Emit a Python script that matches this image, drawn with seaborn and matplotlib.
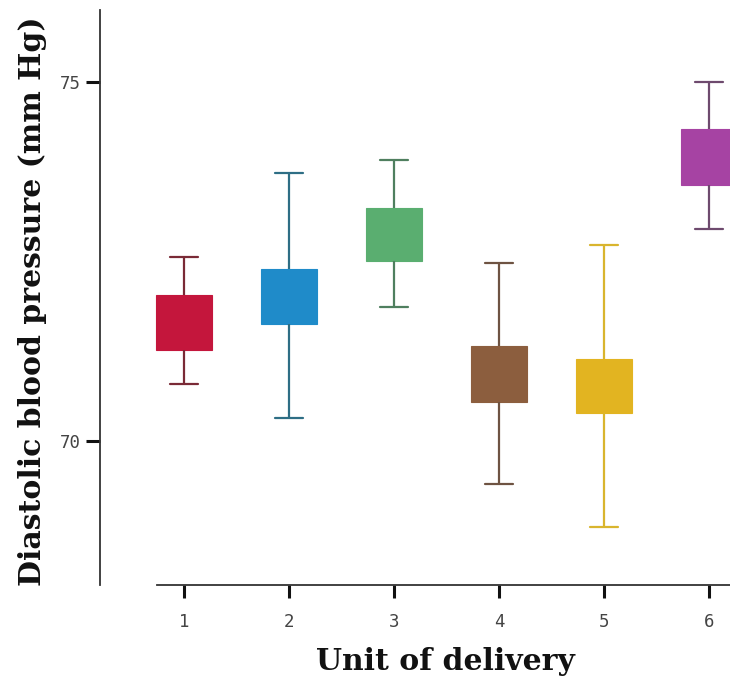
import numpy as np
import pandas as pd
import matplotlib
matplotlib.use("Agg")
import matplotlib.pyplot as plt
import seaborn as sns

units = ["1", "2", "3", "4", "5", "6"]
whisker_low = [70.79, 70.32, 71.87, 69.40, 68.81, 72.95]
box_low = [71.27, 71.63, 72.51, 70.55, 70.39, 73.57]
box_high = [72.04, 72.40, 73.25, 71.32, 71.15, 74.34]
whisker_high = [72.56, 73.73, 73.92, 72.48, 72.73, 75.00]
box_colors = ["#C4163C", "#1F8BC9", "#5AAE70", "#8C5E3E", "#E2B421", "#A643A3"]
line_colors = ["#7A2A36", "#2E6E85", "#4F7F5F", "#6E5342", "#D9B52E", "#6E4A6E"]
yticks = [70, 75]

rows = []
for u, a, b, d, e in zip(units, whisker_low, box_low, box_high, whisker_high):
    for v in (a, b, b, d, e):
        rows.append({"unit": u, "dbp": v})
df = pd.DataFrame(rows)

sns.set_theme(style="white")
plt.rcParams["font.family"] = ["DejaVu Sans"]

fig = plt.figure(figsize=(7.30, 6.83), dpi=100)
ax = fig.add_axes([100 / 730, (683 - 585) / 683, 630 / 730, 575 / 683])

sns.boxplot(data=df, x="unit", y="dbp", hue="unit", order=units, hue_order=units,
            palette=box_colors, saturation=1, width=0.53, whis=(0, 100),
            dodge=False, legend=False, showfliers=False, linewidth=1.6,
            medianprops={"linewidth": 0, "alpha": 0}, ax=ax)

conts = [c for c in ax.containers if hasattr(c, "boxes")]
for c, fc, lc in zip(conts, box_colors, line_colors):
    for b in c.boxes:
        b.set_edgecolor(fc)
        b.set_facecolor(fc)
        b.set_linewidth(0.8)
    for w in list(c.whiskers) + list(c.caps):
        w.set_color(lc)
        w.set_linewidth(1.6)
    for m in c.medians:
        m.set_visible(False)

ax.set_xlim(-0.8, 5.2)
ax.set_ylim(68, 76)
ax.set_yticks(yticks)
ax.set_yticklabels([str(t) for t in yticks])

for s in ["top", "right"]:
    ax.spines[s].set_visible(False)
ax.spines["left"].set_color("#333333")
ax.spines["bottom"].set_color("#333333")
ax.spines["left"].set_linewidth(1.3)
ax.spines["bottom"].set_linewidth(1.3)
ax.spines["bottom"].set_bounds(-0.26, 5.2)

ax.tick_params(axis="y", direction="out", length=10, width=2.2, color="#111111",
               labelsize=12.5, labelcolor="#444444", pad=4, left=True)
ax.tick_params(axis="x", direction="out", length=9, width=2.2, color="#111111",
               labelsize=12.5, labelcolor="#444444", pad=11, bottom=True)
for lab in ax.get_xticklabels() + ax.get_yticklabels():
    lab.set_family("DejaVu Sans Mono")

ax.set_xlabel("Unit of delivery", fontsize=21.5, fontweight="bold",
              family="DejaVu Serif", color="#111111")
ax.set_ylabel("Diastolic blood pressure (mm Hg)", fontsize=21.5, fontweight="bold",
              family="DejaVu Serif", color="#111111")
ax.xaxis.set_label_coords((445 - 100) / 630, -(647 - 585) / 575)
ax.yaxis.set_label_coords(-(100 - 47) / 630, (585 - 301) / 575)

fig.savefig("out.png", dpi=100)
